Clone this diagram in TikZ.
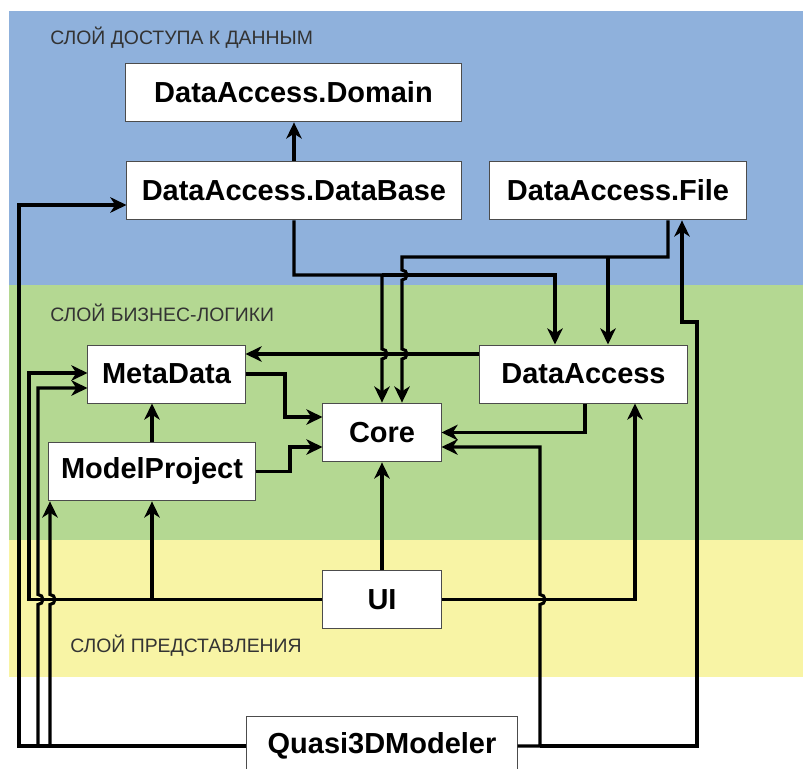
\documentclass[tikz,border=0pt]{standalone}
\usepackage{fontspec}
\setmainfont{Liberation Sans}
\usetikzlibrary{arrows.meta}
\definecolor{capaazul}{HTML}{8FB1DC}
\definecolor{capaverde}{HTML}{B4D892}
\definecolor{capaamarilla}{HTML}{F8F4A5}
\begin{document}
\begin{tikzpicture}[x=0.025cm, y=-0.025cm,
    caja/.style={draw=black!70, line width=0.7pt, fill=white, minimum height=1.47cm,
      inner sep=0pt, font=\fontsize{20.6}{24}\selectfont\bfseries},
    capa/.style={anchor=west, inner sep=0pt, text=black!80, font=\fontsize{13.8}{16}\selectfont},
    flecha/.style={line width=2.2pt, -{Stealth[length=11.5pt, width=11pt, inset=3.5pt]}}]
  \useasboundingbox (0,0) rectangle (803,769);
  % capas
  \fill[capaazul] (9,11) rectangle (803,285);
  \fill[capaverde] (9,285) rectangle (803,540);
  \fill[capaamarilla] (9,540) rectangle (803,677);
  \node[capa] (tdatos) at (50,38) {СЛОЙ ДОСТУПА К ДАННЫМ};
  \node[capa] (tlogica) at (50,313) {СЛОЙ БИЗНЕС-ЛОГИКИ};
  \node[capa] (tvista) at (70,646) {СЛОЙ ПРЕДСТАВЛЕНИЯ};
  % modulos
  \node[caja, minimum width=8.375cm] (domain) at (293.5,92.5) {DataAccess.Domain};
  \node[caja, minimum width=8.35cm] (dbase) at (294,190.5) {DataAccess.DataBase};
  \node[caja, minimum width=6.4cm] (file) at (618,190.5) {DataAccess.File};
  \node[caja, minimum width=3.925cm, minimum height=1.45cm] (meta) at (166.5,374) {MetaData};
  \node[caja, minimum width=5.175cm, minimum height=1.45cm] (dacc) at (583.5,374) {DataAccess};
  \node[caja, minimum width=2.95cm] (core) at (382,432.5) {Core};
  \node[caja, minimum width=5.15cm] (mproj) at (152,471.5) {ModelProject};
  \node[caja, minimum width=2.95cm] (ui) at (382,599.5) {UI};
  \node[caja, minimum width=6.75cm] (quasi) at (382,746) {Quasi3DModeler};
  % capa de datos
  \draw[flecha] (dbase.north) -- (domain.south -| dbase.north);
  \draw[flecha] (dbase.south) |- (382,275) -- (382,349)
    arc[start angle=90, end angle=-90, radius=0.125cm] -- (core.north);
  \draw[flecha] (382,275) -- (555,275) -- (dacc.north -| 555,0);
  \draw[flecha] (file.south -| 668,0) |- (402,257) -- (402,270)
    arc[start angle=90, end angle=-90, radius=0.125cm] -- (402,349)
    arc[start angle=90, end angle=-90, radius=0.125cm] -- (core.north -| 402,0);
  \draw[flecha] (608,257) -- (dacc.north -| 608,0);
  % logica
  \draw[flecha] (dacc.west |- 0,354) -- (meta.east |- 0,354);
  \draw[flecha] (meta.east) -| (285,417) -- (core.west |- 0,417);
  \draw[flecha] (mproj.east) -| (290,447) -- (core.west |- 0,447);
  \draw[flecha] (mproj.north) -- (meta.south -| mproj.north);
  \draw[flecha] (dacc.south -| 585,0) |- (core.east);
  % UI
  \draw[flecha] (ui.north) -- (core.south);
  \draw[flecha] (ui.east) -| (dacc.south -| 635,0);
  \draw[flecha] (ui.west) -- (29,599.5) |- (meta.west |- 0,373);
  \draw[flecha] (152,599.5) -- (mproj.south -| 152,0);
  % Quasi3DModeler
  \draw[flecha] (quasi.east) -- (540,746) -- (540,604.5)
    arc[start angle=-90, end angle=90, radius=0.125cm] -- (540,447) -- (core.east |- 0,447);
  \draw[flecha] (540,746) -- (697,746) -- (697,322) -- (682,322) -- (file.south -| 682,0);
  \draw[flecha] (quasi.west) -| (19,205) -- (dbase.west |- 0,205);
  \draw[flecha] (38,746) -- (38,604.5)
    arc[start angle=-90, end angle=90, radius=0.125cm] -- (38,388) -- (meta.west |- 0,388);
  \draw[flecha] (50,746) -- (50,604.5)
    arc[start angle=-90, end angle=90, radius=0.125cm] -- (mproj.south -| 50,0);
\end{tikzpicture}
\end{document}
